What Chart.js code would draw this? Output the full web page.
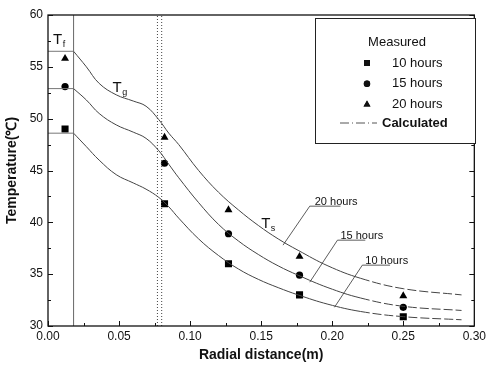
<!DOCTYPE html>
<html>
<head>
    <meta charset="UTF-8">
    <title>Temperature vs radial distance</title>
    <script src="https://cdn.jsdelivr.net/npm/chart.js"></script>
    <style>
        html, body { margin: 0; padding: 0; background: #fff; }
        #wrap { width: 489px; height: 370px; }
    </style>
</head>
<body>
    <div id="wrap"><canvas id="tempChart" width="489" height="370"></canvas></div>
    <script>
        // calculated curves
        const curveX = [0.018, 0.027, 0.036, 0.048, 0.060, 0.069, 0.078, 0.085, 0.092, 0.106, 0.120, 0.134, 0.148, 0.162, 0.176, 0.197, 0.220, 0.250, 0.291];
        const calc20 = [56.5, 55.0, 53.4, 52.3, 51.7, 51.2, 49.9, 48.6, 47.5, 45.0, 42.9, 41.2, 39.7, 38.4, 37.3, 35.8, 34.6, 33.6, 33.0];
        const calc15 = [52.9, 51.8, 50.5, 49.4, 48.7, 48.1, 46.9, 45.6, 44.3, 41.9, 39.8, 38.2, 36.9, 35.8, 34.9, 33.7, 32.7, 31.9, 31.5];
        const calc10 = [48.6, 47.3, 46.0, 44.6, 43.8, 43.2, 42.4, 41.5, 40.4, 38.4, 36.8, 35.5, 34.5, 33.7, 33.0, 32.1, 31.4, 30.9, 30.6];

        // measured points
        const measX = [0.012, 0.082, 0.127, 0.177, 0.250];
        const meas10 = [49.0, 41.8, 36.0, 33.0, 30.9];
        const meas15 = [53.1, 45.7, 38.9, 34.9, 31.8];
        const meas20 = [55.8, 48.2, 41.2, 36.7, 32.9];

        const seriesNames = ['10 hours', '15 hours', '20 hours'];
        const interfaceX = 0.018;
        const dottedX = [0.077, 0.080];
        const dashFrom = 0.22;

        const xTicks = [0, 0.05, 0.10, 0.15, 0.20, 0.25, 0.30];
        const yTicks = [30, 35, 40, 45, 50, 55, 60];

        const pts = (xs, ys) => xs.map((x, i) => ({ x: x, y: ys[i] }));

        function curve(ys) {
            return {
                type: 'line', data: pts(curveX, ys), borderColor: '#444', borderWidth: 1,
                pointRadius: 0, tension: 0.4,
                segment: { borderDash: c => c.p0.parsed.x >= dashFrom ? [9, 3] : undefined }
            };
        }
        function guide(data, dash, color) {
            return { type: 'line', data: data, borderColor: color || '#777', borderWidth: 1,
                     pointRadius: 0, borderDash: dash || [] };
        }
        function marks(ys, style, r) {
            return { type: 'scatter', data: pts(measX, ys), pointStyle: style, pointRadius: r,
                     backgroundColor: '#000', borderColor: '#000', borderWidth: 0 };
        }

        const datasets = [
            guide([{ x: interfaceX, y: 30 }, { x: interfaceX, y: 60 }], [], '#666'),
            guide([{ x: dottedX[0], y: 30 }, { x: dottedX[0], y: 60 }], [1, 2], '#444'),
            guide([{ x: dottedX[1], y: 30 }, { x: dottedX[1], y: 60 }], [1, 2], '#444'),
            guide([{ x: 0, y: calc20[0] }, { x: interfaceX, y: calc20[0] }]),
            guide([{ x: 0, y: calc15[0] }, { x: interfaceX, y: calc15[0] }]),
            guide([{ x: 0, y: calc10[0] }, { x: interfaceX, y: calc10[0] }]),
            curve(calc10), curve(calc15), curve(calc20),
            marks(meas10, 'rect', 5), marks(meas15, 'circle', 3.6), marks(meas20, 'triangle', 4.6)
        ];

        // text labels placed in data units
        const subLabels = [
            { t: 'T', s: 'f', x: 0.0035, y: 57.2 },
            { t: 'T', s: 'g', x: 0.0454, y: 52.6 },
            { t: 'T', s: 's', x: 0.150, y: 39.5 }
        ];
        const leaders = [
            { text: '20 hours', from: [0.1654, 37.8], to: [0.1842, 41.56], end: 0.2058, tx: 0.1877 },
            { text: '15 hours', from: [0.1842, 34.23], to: [0.2037, 38.28], end: 0.2233, tx: 0.2058 },
            { text: '10 hours', from: [0.2016, 31.81], to: [0.2212, 35.87], end: 0.2407, tx: 0.2233 }
        ];

        const decor = {
            id: 'decor',
            afterDraw(chart) {
                const c = chart.ctx, a = chart.chartArea;
                const xs = chart.scales.x, ys = chart.scales.y;
                c.save();
                // frame
                c.strokeStyle = '#111'; c.lineWidth = 1.3;
                c.strokeRect(a.left, a.top, a.right - a.left, a.bottom - a.top);
                // inward ticks
                c.lineWidth = 1;
                for (let v = 0; v <= 0.3001; v += 0.025) {
                    const px = Math.round(xs.getPixelForValue(v)) + 0.5;
                    const len = Math.abs(v / 0.05 - Math.round(v / 0.05)) < 1e-6 ? 5 : 3;
                    c.beginPath(); c.moveTo(px, a.bottom); c.lineTo(px, a.bottom - len); c.stroke();
                }
                for (let v = 30; v <= 60; v += 2.5) {
                    const py = Math.round(ys.getPixelForValue(v)) + 0.5;
                    const len = v % 5 === 0 ? 5 : 3;
                    c.beginPath(); c.moveTo(a.left, py); c.lineTo(a.left + len, py); c.stroke();
                    c.beginPath(); c.moveTo(a.right, py); c.lineTo(a.right - len, py); c.stroke();
                }
                // T labels with subscripts
                c.fillStyle = '#111'; c.textBaseline = 'alphabetic'; c.textAlign = 'left';
                subLabels.forEach(l => {
                    const px = xs.getPixelForValue(l.x), py = ys.getPixelForValue(l.y);
                    c.font = '15px "Liberation Sans", Arial, sans-serif';
                    c.fillText(l.t, px, py);
                    const w = c.measureText(l.t).width;
                    c.font = '9px "Liberation Sans", Arial, sans-serif';
                    c.fillText(l.s, px + w + 0.5, py + 3);
                });
                // leader labels
                c.strokeStyle = '#333'; c.lineWidth = 0.8;
                leaders.forEach(l => {
                    const x0 = xs.getPixelForValue(l.from[0]), y0 = ys.getPixelForValue(l.from[1]);
                    const x1 = xs.getPixelForValue(l.to[0]), y1 = ys.getPixelForValue(l.to[1]);
                    const x2 = xs.getPixelForValue(l.end);
                    c.beginPath(); c.moveTo(x0, y0); c.lineTo(x1, y1); c.lineTo(x2, y1); c.stroke();
                    c.font = '11px "Liberation Sans", Arial, sans-serif';
                    c.fillText(l.text, xs.getPixelForValue(l.tx), y1 - 1);
                });
                // legend box
                const bx = 315.5, by = 18.5, bw = 160, bh = 125;
                c.fillStyle = '#fff'; c.fillRect(bx, by, bw, bh);
                c.strokeStyle = '#222'; c.lineWidth = 1; c.strokeRect(bx, by, bw, bh);
                c.fillStyle = '#111';
                c.font = '13px "Liberation Sans", Arial, sans-serif';
                c.textAlign = 'center'; c.textBaseline = 'middle';
                c.fillText('Measured', 397, 42);
                c.textAlign = 'left';
                const styles = [['rect', 4.2], ['circle', 3.2], ['triangle', 4]];
                seriesNames.forEach((n, i) => {
                    const y = 63 + i * 20.7;
                    Chart.helpers.drawPoint(c, { pointStyle: styles[i][0], radius: styles[i][1], borderWidth: 0 }, 367, y);
                    c.fill();
                    c.fillText(n, 392, y);
                });
                c.setLineDash([9, 3, 1, 3]); c.strokeStyle = '#555';
                c.beginPath(); c.moveTo(340, 123); c.lineTo(377, 123); c.stroke();
                c.setLineDash([]);
                c.font = 'bold 13px "Liberation Sans", Arial, sans-serif';
                c.fillText('Calculated', 382, 123);
                c.restore();
            }
        };

        const ctx = document.getElementById('tempChart').getContext('2d');
        const chart = new Chart(ctx, {
            type: 'scatter',
            data: { datasets: datasets },
            options: {
                responsive: false,
                animation: false,
                events: [],
                layout: { padding: { top: 15, right: 11, left: 0, bottom: 0 } },
                plugins: { legend: { display: false }, tooltip: { enabled: false } },
                scales: {
                    x: {
                        type: 'linear', min: 0, max: 0.3,
                        afterFit: s => { s.height = 44; },
                        afterBuildTicks: s => { s.ticks = xTicks.map(v => ({ value: v })); },
                        grid: { display: false, drawTicks: false },
                        border: { display: false },
                        ticks: { color: '#111', padding: 3, font: { size: 12, family: '"Liberation Sans", Arial' },
                                 callback: v => v.toFixed(2) },
                        title: { display: true, text: 'Radial distance(m)', color: '#111',
                                 font: { size: 14, weight: 'bold', family: '"Liberation Sans", Arial' },
                                 padding: { top: 0, bottom: 6 } }
                    },
                    y: {
                        min: 30, max: 60,
                        afterFit: s => { s.width = 48; },
                        afterBuildTicks: s => { s.ticks = yTicks.map(v => ({ value: v })); },
                        grid: { display: false, drawTicks: false },
                        border: { display: false },
                        ticks: { color: '#111', padding: 5, font: { size: 12, family: '"Liberation Sans", Arial' } },
                        title: { display: true, text: 'Temperature(\u2103)', color: '#111',
                                 font: { size: 14, weight: 'bold', family: '"Liberation Sans", Arial' },
                                 padding: { top: 4, bottom: 0 } }
                    }
                }
            },
            plugins: [decor]
        });
    </script>
</body>
</html>
